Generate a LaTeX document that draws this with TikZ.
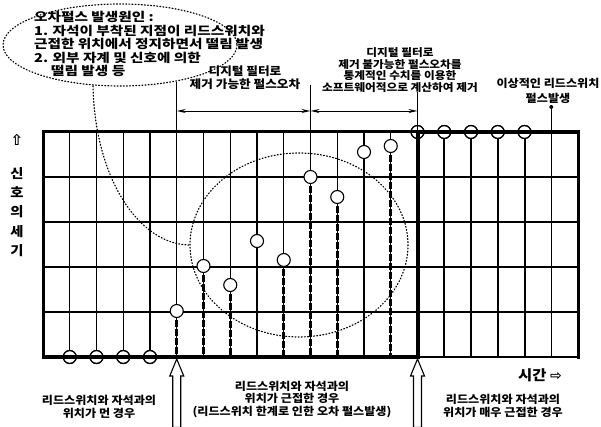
\documentclass[tikz,border=0pt]{standalone}
\usepackage{fontspec}
\newfontfamily\kr{Noto Sans CJK KR}[FakeStretch=1.1]
\newfontfamily\krx{Noto Sans CJK KR}[FakeStretch=1.2]
\newfontfamily\dv{DejaVu Sans}
\usetikzlibrary{arrows.meta}
\tikzset{
  gridline/.style={line width=1.1pt},
  pulseline/.style={line width=2pt},
  border/.style={line width=3pt},
  heavy/.style={line width=4.5pt},
  stemdash/.style={line width=2.6pt, dash pattern=on 7pt off 2pt},
  pulsecirc/.style={circle, draw, fill=white, line width=1.1pt, minimum size=13pt, inner sep=0pt},
  dotline/.style={line width=1.2pt, dash pattern=on 0.9pt off 2.2pt, line cap=round},
  dimarrow/.style={line width=0.9pt, {Stealth[length=9pt,width=4pt,open]}-{Stealth[length=9pt,width=4pt,open]}},
  bigarrow/.style={draw, fill=white, line width=1.1pt, line join=miter},
  lbl/.style={inner sep=0pt, font=\kr\bfseries\fontsize{11}{12.5}\selectfont},
}
\begin{document}
\begin{tikzpicture}[x=1pt,y=-1pt]
\useasboundingbox (0,0) rectangle (601,427);
\fill[white] (0,0) rectangle (601,427);

% grid
\foreach \i in {1,...,19}
  \draw[gridline] ({43+26.75*\i},132) -- ({43+26.75*\i},357);
\foreach \y in {177,222,267,312}
  \draw[gridline] (43,\y) -- (578,\y);

% right region pulse lines
\foreach \i in {15,...,18}
  \draw[pulseline] ({43+26.75*\i},132) -- ({43+26.75*\i},357);

% middle stems
\foreach \i/\cy in {5/311,6/266,7/285,8/241,9/260,10/177,11/197,12/152,13/146}{
  \coordinate (s\i) at ({43+26.75*\i},\cy);
  \coordinate (b\i) at ({43+26.75*\i},357);
  \draw[stemdash] (s\i) -- (b\i);
}

% dotted shapes
\draw[dotline] (120,45) ellipse [x radius=117, y radius=41];
\draw[dotline] (299,245) ellipse [x radius=109, y radius=92];
\coordinate (lead0) at (93,86);
\coordinate (lead1) at (190,245);
\draw[dotline] (lead0) .. controls (95,180) and (140,245) .. (lead1);

% circles
\foreach \i in {1,...,4}
  \node[pulsecirc] (lo\i) at ({43+26.75*\i},357) {};
\foreach \i in {14,...,18}
  \node[pulsecirc] (hi\i) at ({43+26.75*\i},132) {};
\foreach \i in {5,...,13}
  \node[pulsecirc] (m\i) at (s\i) {};

% borders
\draw[border] (43,132) -- (417.5,132);
\draw[heavy] (43,357) -- (417.5,357);
\draw[line width=2.5pt] (417.5,357) -- (578,357);
\draw[heavy] (417.5,132) -- (580,132);
\draw[border] (43,130.5) -- (43,358.5);
\draw[border] (578,130.5) -- (578,358.5);
\draw[line width=4pt] (417.5,130) -- (417.5,359);
% redraw circle outlines so the border shows through
\foreach \i in {1,...,4}
  \draw[line width=1.1pt] (lo\i) circle (6.5pt);
\foreach \i in {14,...,18}
  \draw[line width=1.1pt] (hi\i) circle (6.5pt);

% top dimension marks
\coordinate (t5) at (176.75,82);
\coordinate (t10) at (310.5,85);
\coordinate (t14) at (417.5,92);
\draw[gridline] (t5) -- (176.75,132);
\draw[gridline] (t10) -- (310.5,132);
\draw[gridline] (t14) -- (417.5,132);
\coordinate (a5) at (176.75,111);
\coordinate (a10) at (310.5,111);
\coordinate (a14) at (417.5,111);
\draw[dimarrow] (a5) -- (a10);
\draw[dimarrow] (a10) -- (a14);

% ideal pulse leader
\coordinate (idl) at (551.25,107);
\draw[gridline] (idl) -- (551.25,132);
\fill (idl) circle (2pt);

% bottom big arrows
\foreach \x/\n in {176.75/A,417.5/B}{
  \draw[bigarrow] (\x,359) -- (\x+7,376) -- (\x+4,376) -- (\x+4,427.5) -- (\x-4,427.5) -- (\x-4,376) -- (\x-7,376) -- cycle;
}

% texts
\node[lbl, anchor=west, align=left, font=\krx\bfseries\fontsize{12.2}{13.5}\selectfont] (cause) at (34,44)
  {오차펄스 발생원인 :\\1. 자석이 부착된 지점이 리드스위치와\\근접한 위치에서 정지하면서 떨림 발생\\2. 외부 자계 및 신호에 의한\\\hspace*{17pt}떨림 발생 등};
\node[lbl, align=center, font=\kr\bfseries\fontsize{11.5}{13}\selectfont] (filtA) at (245,78) {디지털 필터로\\제거 가능한 펄스오차};
\node[lbl, align=center, font=\kr\bfseries\fontsize{10.6}{11.8}\selectfont] (filtB) at (400,70)
  {디지털 필터로\\제거 불가능한 펄스오차를\\통계적인 수치를 이용한\\소프트웨어적으로 계산하여 제거};
\node[lbl, align=center] (ideal) at (548,91) {이상적인 리드스위치\\[3pt]펄스발생};
\node[lbl, font=\dv\bfseries\fontsize{15}{15}\selectfont] (yup) at (17,140) {⇧};
\node[lbl, align=center, font=\kr\bfseries\fontsize{13}{19.3}\selectfont] (ylab) at (17,212) {신\\호\\의\\세\\기};
\node[lbl, font=\kr\bfseries\fontsize{14}{14}\selectfont] (xlab) at (540,375) {시간 {\dv ⇨}};
\node[lbl, align=center] (farT) at (99,407) {리드스위치와 자석과의\\위치가 먼 경우};
\node[lbl, align=center] (nearT) at (292,399) {리드스위치와 자석과의\\위치가 근접한 경우\\(리드스위치 한계로 인한 오차 펄스발생)};
\node[lbl, align=center] (vnearT) at (503,406) {리드스위치와 자석과의\\위치가 매우 근접한 경우};
\end{tikzpicture}
\end{document}
